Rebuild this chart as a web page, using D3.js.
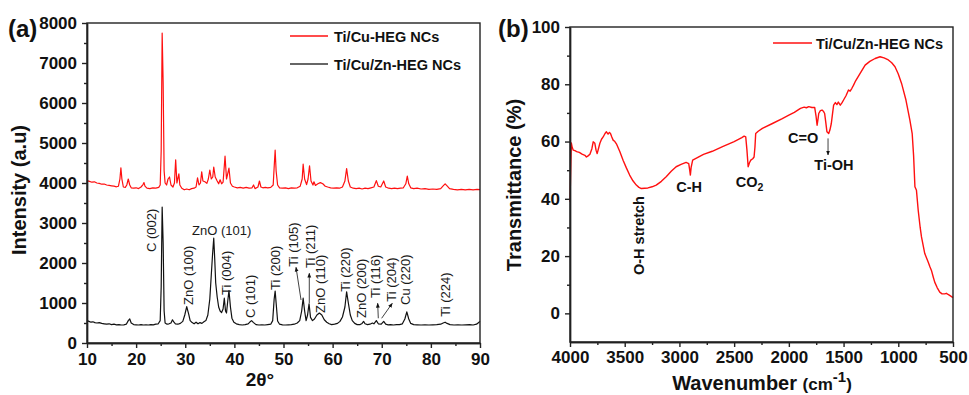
<!DOCTYPE html>
<html>
<head>
<meta charset="utf-8">
<script src="https://cdn.jsdelivr.net/npm/d3@7"></script>
<style>
  body { margin: 0; background: #fff; }
  svg text { font-family: "Liberation Sans", Arial, sans-serif; }
  .axis path, .axis line { stroke: #222; stroke-width: 1.4px; }
  .axis text { font-size: 17px; font-weight: bold; fill: #111; }
</style>
</head>
<body>
<svg id="chart" width="969" height="395"></svg>
<script>
// ---- XRD (panel a) ----
const xrdTicks = [10, 20, 30, 40, 50, 60, 70, 80, 90];
const xrdMinor = [15, 25, 35, 45, 55, 65, 75, 85];
const intTicks = [0, 1000, 2000, 3000, 4000, 5000, 6000, 7000, 8000];
const intMinor = [500, 1500, 2500, 3500, 4500, 5500, 6500, 7500];

// Ti/Cu-HEG NCs (red), [2theta, intensity]
const tiCuHeg = [[10,4060],[10.5,4040],[11,4020],[11.5,4030],[12,4000],[12.5,3990],[13,3970],[13.5,3975],[14,3950],[14.5,3940],[15,3930],[15.5,3920],[16,3905],[16.4,3920],[16.7,4100],[16.9,4380],[17.1,4100],[17.4,3900],[17.8,3890],[18.1,3950],[18.4,4100],[18.7,3950],[19,3880],[19.5,3870],[20,3880],[20.5,3860],[21,3900],[21.4,3960],[21.6,4010],[21.8,3920],[22.2,3870],[22.8,3860],[23.4,3880],[24,3870],[24.6,3890],[24.9,3950],[25.1,4800],[25.3,7750],[25.5,6500],[25.7,4300],[25.9,4000],[26.2,3950],[26.5,4100],[26.8,4150],[27.1,3950],[27.5,3900],[27.8,4000],[28.05,4580],[28.3,4000],[28.7,4230],[28.9,3950],[29.3,3870],[29.8,3830],[30.3,3850],[30.8,3830],[31.3,3860],[31.8,3870],[32.2,3900],[32.5,4130],[32.8,3950],[33.1,4000],[33.35,4280],[33.6,4050],[34,4030],[34.4,3990],[34.7,4100],[35,4320],[35.3,4100],[35.6,4150],[35.8,4400],[36.1,4150],[36.5,4050],[36.8,3980],[37.1,4080],[37.4,3980],[37.7,4020],[38.1,4670],[38.4,4100],[38.9,4370],[39.2,4000],[39.6,3920],[40,3900],[40.6,3880],[41.2,3890],[41.8,3870],[42.4,3890],[43,3870],[43.6,3880],[43.9,3950],[44.2,3860],[44.8,3900],[45.1,4050],[45.4,3900],[45.8,3880],[46.3,3890],[46.8,3880],[47.4,3890],[47.9,3950],[48.1,4400],[48.3,4820],[48.5,4300],[48.8,3950],[49.2,3880],[49.8,3870],[50.4,3880],[51,3860],[51.6,3880],[52.2,3870],[52.8,3880],[53.4,3920],[53.8,4100],[54,4470],[54.3,4100],[54.7,3960],[55,4100],[55.3,4430],[55.6,4050],[56,3950],[56.2,4030],[56.5,3940],[57,3980],[57.5,4010],[58,3980],[58.5,3920],[59,3900],[59.6,3880],[60.2,3870],[60.8,3880],[61.4,3870],[62,3900],[62.5,4050],[62.85,4360],[63.2,4050],[63.6,3900],[64.2,3870],[64.8,3860],[65.4,3870],[66,3850],[66.6,3870],[67.2,3860],[67.8,3880],[68.4,3900],[68.9,4060],[69.3,3920],[69.8,3900],[70.4,4050],[70.8,3900],[71.4,3870],[72,3860],[72.6,3870],[73.2,3860],[73.8,3870],[74.4,3880],[74.9,3980],[75.2,4170],[75.5,3980],[75.9,3880],[76.5,3860],[77.2,3870],[78,3850],[78.8,3860],[79.6,3840],[80.4,3850],[81.2,3840],[82,3860],[82.5,3930],[82.9,3980],[83.3,3930],[83.8,3860],[84.6,3840],[85.4,3830],[86.2,3840],[87,3830],[87.8,3840],[88.6,3830],[89.4,3840],[90,3835]];

// Ti/Cu/Zn-HEG NCs (black)
const tiCuZnHeg = [[10,560],[10.4,540],[10.8,520],[11.2,530],[11.6,510],[12,500],[12.5,510],[13,490],[13.5,480],[14,470],[14.5,480],[15,460],[15.5,470],[16,455],[16.5,460],[17,450],[17.5,455],[18,470],[18.4,560],[18.7,600],[19,500],[19.5,460],[20,455],[20.5,450],[21,460],[21.5,450],[22,455],[22.5,450],[23,460],[23.5,455],[24,470],[24.5,480],[24.9,560],[25.1,1400],[25.3,3400],[25.5,2500],[25.7,800],[25.9,500],[26.3,470],[26.7,480],[27.1,500],[27.4,580],[27.7,520],[28,480],[28.5,470],[29,490],[29.5,540],[29.9,700],[30.3,910],[30.7,720],[31,560],[31.4,510],[31.8,480],[32.2,520],[32.6,480],[33,510],[33.4,490],[33.8,530],[34.2,560],[34.6,700],[35,1100],[35.3,1700],[35.55,2200],[35.8,2620],[36,2100],[36.2,1500],[36.5,1150],[36.8,900],[37.1,800],[37.4,760],[37.7,850],[37.95,1120],[38.2,800],[38.4,750],[38.65,1050],[38.9,1310],[39.2,900],[39.5,620],[39.9,520],[40.4,480],[41,460],[41.6,450],[42.2,460],[42.8,480],[43.2,530],[43.5,560],[43.9,510],[44.4,460],[45,450],[45.6,455],[46.2,450],[46.8,460],[47.4,470],[47.8,560],[48.1,1100],[48.3,1300],[48.5,1000],[48.8,550],[49.2,470],[49.8,455],[50.4,450],[51,455],[51.6,460],[52.2,470],[52.8,500],[53.3,560],[53.7,800],[54,1120],[54.3,800],[54.6,560],[54.9,700],[55.2,980],[55.5,640],[55.9,560],[56.3,600],[56.8,700],[57.3,750],[57.8,700],[58.3,580],[58.8,520],[59.3,480],[59.8,460],[60.4,470],[61,490],[61.5,540],[62,650],[62.5,900],[62.85,1280],[63.2,1000],[63.6,700],[64,560],[64.5,490],[65,460],[65.6,460],[66,490],[66.3,540],[66.6,480],[67.1,460],[67.6,470],[68.1,500],[68.4,480],[68.9,560],[69.3,480],[69.9,470],[70.4,540],[70.8,470],[71.3,455],[71.8,460],[72.4,450],[73,460],[73.6,460],[74.2,480],[74.7,600],[75.1,780],[75.5,600],[75.9,490],[76.5,460],[77.2,455],[78,450],[78.8,455],[79.6,450],[80.4,455],[81.2,460],[82,470],[82.5,500],[82.9,520],[83.3,490],[83.9,460],[84.7,450],[85.5,455],[86.3,450],[87.1,455],[87.9,460],[88.6,450],[89.3,470],[89.8,520],[90,540]];

// peak labels: [text, 2theta, intensity at label start, rotated]
const peakLabels = [
  ["C (002)", 23.17, 2275, true],
  ["ZnO (100)", 30.62, 950, true],
  ["ZnO (101)", 37.42, 2700, false],
  ["Ti (004)", 38.44, 1200, true],
  ["C (101)", 43.18, 625, true],
  ["Ti (200)", 48.27, 1325, true],
  ["Ti (105)", 52.0, 1908, true],
  ["Ti (211)", 55.4, 1875, true],
  ["ZnO (110)", 57.57, 750, true],
  ["Ti (220)", 62.52, 1283, true],
  ["ZnO (200)", 65.92, 625, true],
  ["Ti (116)", 68.63, 1125, true],
  ["Ti (204)", 72.03, 1033, true],
  ["Cu (220)", 74.73, 950, true],
  ["Ti (224)", 83.0, 658, true]
];
// arrows [from 2theta, from I, to 2theta, to I]
const peakArrows = [[53.57, 1075, 52.55, 1893], [55.25, 993, 55.25, 1743], [69.3, 618, 69.17, 993], [69.98, 618, 72.14, 993]];

// ---- FTIR (panel b) ----
const waveTicks = [4000, 3500, 3000, 2500, 2000, 1500, 1000, 500];
const waveMinor = [3750, 3250, 2750, 2250, 1750, 1250, 750];
const transTicks = [0, 20, 40, 60, 80, 100];
const transMinor = [10, 30, 50, 70, 90];

// [wavenumber, transmittance]
const ftir = [[4000,39],[3995,48],[3988,59.5],[3980,58],[3970,57],[3955,56.8],[3939,56.5],[3915,56.2],[3890,55.6],[3864,55.2],[3850,54.6],[3835,55],[3818,55.6],[3800,57.5],[3788,59.9],[3773,59.4],[3762,57],[3752,55.8],[3740,57.5],[3727,59.4],[3712,60.8],[3697,61.6],[3680,62.8],[3667,63.4],[3652,62.6],[3640,63.2],[3630,62.8],[3618,61.6],[3606,60.5],[3590,60],[3576,59.2],[3545,56.5],[3515,53.5],[3485,50.8],[3455,48.3],[3425,46.3],[3394,44.8],[3370,44],[3348,43.6],[3318,43.7],[3288,43.8],[3250,44.2],[3212,44.8],[3165,46.1],[3121,47.7],[3075,49.6],[3030,51.2],[2985,52],[2939,52.7],[2915,52.3],[2906,50],[2900,48.3],[2893,51],[2879,53.5],[2849,54.1],[2780,55.5],[2700,56.6],[2606,58.2],[2500,60],[2430,61.4],[2409,61.9],[2394,61.6],[2383,57],[2372,51.2],[2360,52.6],[2348,53.5],[2330,54],[2318,54.6],[2310,58],[2303,62.8],[2280,63.6],[2242,64.6],[2150,66.3],[2060,68],[2000,69.2],[1950,70.2],[1894,71.6],[1860,72],[1840,71.8],[1818,72.2],[1790,71.9],[1764,71.9],[1752,69],[1742,65.7],[1733,68],[1727,69.8],[1712,70.8],[1697,71],[1685,70.6],[1673,69.8],[1662,66.5],[1652,63.4],[1636,62.8],[1625,64],[1612,66.3],[1600,70],[1591,72.7],[1575,73.6],[1561,72.9],[1548,73.8],[1530,72.7],[1515,73.5],[1500,74.5],[1478,76],[1455,78],[1440,77.6],[1424,78.6],[1410,79.6],[1394,80.9],[1350,83.7],[1303,86.7],[1260,88],[1212,89],[1167,89.6],[1130,89.2],[1091,88.5],[1060,87.5],[1030,86.1],[1000,83.6],[970,80.3],[930,74.5],[894,67.5],[873,62.8],[860,55],[848,44.2],[834,43],[818,36],[800,30],[788,26.7],[758,20.9],[727,17.9],[710,16.2],[697,15],[680,12.6],[667,10.9],[645,9],[621,7.4],[600,6.8],[576,6.8],[560,7],[545,6.6],[520,6],[500,5.5]];

// FTIR annotations [text, wavenumber, transmittance]
const ftirLabels = [["C-H", 2912, 42.4], ["C=O", 1869, 59.5], ["Ti-OH", 1588, 50.1]];

const svg = d3.select("#chart");
svg.append("rect").attr("width", 969).attr("height", 395).attr("fill", "#fff");

const defs = svg.append("defs");
defs.append("marker").attr("id", "head").attr("viewBox", "0 0 10 10")
  .attr("refX", 9).attr("refY", 5).attr("markerWidth", 6).attr("markerHeight", 6)
  .attr("orient", "auto-start-reverse")
  .append("path").attr("d", "M0,1 L10,5 L0,9 z").attr("fill", "#111");

function drawAxes(x, y, xMajor, xMinor, yMajor, yMinor, xPad) {
  const [x0, x1] = x.range(), [y0, y1] = y.range();
  const fmt = d3.format("d");
  svg.append("g").attr("class", "axis").attr("transform", `translate(0,${y0})`)
    .call(d3.axisBottom(x).tickValues(xMinor).tickSize(3).tickSizeOuter(0).tickFormat(""));
  svg.append("g").attr("class", "axis").attr("transform", `translate(0,${y0})`)
    .call(d3.axisBottom(x).tickValues(xMajor).tickSize(5).tickSizeOuter(0).tickPadding(xPad).tickFormat(fmt));
  svg.append("g").attr("class", "axis").attr("transform", `translate(${x0},0)`)
    .call(d3.axisLeft(y).tickValues(yMinor).tickSize(3).tickSizeOuter(0).tickFormat(""));
  svg.append("g").attr("class", "axis").attr("transform", `translate(${x0},0)`)
    .call(d3.axisLeft(y).tickValues(yMajor).tickSize(5).tickSizeOuter(0).tickPadding(5).tickFormat(fmt));
  svg.append("rect")
    .attr("x", x0).attr("y", y1).attr("width", x1 - x0).attr("height", y0 - y1)
    .attr("fill", "none").attr("stroke", "#222").attr("stroke-width", 1.4);
}

// ===== panel (a) =====
const xA = d3.scaleLinear().domain([10, 90]).range([87, 480]);
const yA = d3.scaleLinear().domain([0, 8000]).range([343, 23]);
const lineA = d3.line().x(d => xA(d[0])).y(d => yA(d[1]));

svg.append("path").datum(tiCuZnHeg).attr("d", lineA)
  .attr("fill", "none").attr("stroke", "#111").attr("stroke-width", 1.2).attr("stroke-linejoin", "round");
svg.append("path").datum(tiCuHeg).attr("d", lineA)
  .attr("fill", "none").attr("stroke", "#ff1010").attr("stroke-width", 1.2).attr("stroke-linejoin", "round");

drawAxes(xA, yA, xrdTicks, xrdMinor, intTicks, intMinor, 5);

svg.selectAll(".peak").data(peakLabels).enter().append("text")
  .attr("class", "peak")
  .attr("transform", d => d[3]
    ? `translate(${xA(d[1])},${yA(d[2])}) rotate(-90)`
    : `translate(${xA(d[1])},${yA(d[2])})`)
  .attr("dy", d => d[3] ? "0.35em" : 0)
  .attr("text-anchor", d => d[3] ? "start" : "middle")
  .style("font-size", "13px").style("fill", "#1a1a1a")
  .text(d => d[0]);

svg.selectAll(".parrow").data(peakArrows).enter().append("line")
  .attr("class", "parrow")
  .attr("x1", d => xA(d[0])).attr("y1", d => yA(d[1]))
  .attr("x2", d => xA(d[2])).attr("y2", d => yA(d[3]))
  .attr("stroke", "#111").attr("stroke-width", 0.8).attr("marker-end", "url(#head)");

// legend a
const legA = [["Ti/Cu-HEG NCs", "#ff1010", 36], ["Ti/Cu/Zn-HEG NCs", "#333", 64]];
legA.forEach(l => {
  svg.append("line").attr("x1", 290).attr("x2", 328).attr("y1", l[2]).attr("y2", l[2])
    .attr("stroke", l[1]).attr("stroke-width", 1.5);
  svg.append("text").attr("x", 334).attr("y", l[2] + 5.5)
    .style("font-size", "14.5px").style("font-weight", "bold").style("fill", "#111").text(l[0]);
});

svg.append("text").attr("x", 8).attr("y", 37)
  .style("font-size", "24px").style("font-weight", "bold").style("fill", "#111").text("(a)");
svg.append("text").attr("transform", "translate(26,190) rotate(-90)").attr("text-anchor", "middle")
  .style("font-size", "20px").style("font-weight", "bold").style("fill", "#111").text("Intensity (a.u)");
svg.append("text").attr("x", 260).attr("y", 386).attr("text-anchor", "middle")
  .style("font-size", "19px").style("font-weight", "bold").style("fill", "#111").text("2θ°");

// ===== panel (b) =====
const xB = d3.scaleLinear().domain([4000, 500]).range([570, 953]);
const yB = d3.scaleLinear().domain([-10, 100]).range([342, 27]);
const lineB = d3.line().x(d => xB(d[0])).y(d => yB(d[1]));

svg.append("path").datum(ftir).attr("d", lineB)
  .attr("fill", "none").attr("stroke", "#ff1010").attr("stroke-width", 1.4).attr("stroke-linejoin", "round");

drawAxes(xB, yB, waveTicks, waveMinor, transTicks, transMinor, 4);

svg.selectAll(".flab").data(ftirLabels).enter().append("text")
  .attr("class", "flab")
  .attr("x", d => xB(d[1])).attr("y", d => yB(d[2])).attr("text-anchor", "middle")
  .style("font-size", "14.5px").style("font-weight", "bold").style("fill", "#111")
  .text(d => d[0]);

const co2 = svg.append("text").attr("x", xB(2359)).attr("y", yB(44.1)).attr("text-anchor", "middle")
  .style("font-size", "14.5px").style("font-weight", "bold").style("fill", "#111");
co2.append("tspan").text("CO");
co2.append("tspan").attr("dy", 4).style("font-size", "10.5px").text("2");

svg.append("text").attr("transform", `translate(${xB(3374)},${yB(13.4)}) rotate(-90)`)
  .attr("dy", "0.35em")
  .style("font-size", "14.5px").style("font-weight", "bold").style("fill", "#111").text("O-H stretch");

svg.append("line").attr("x1", xB(1642)).attr("x2", xB(1642)).attr("y1", yB(61.1)).attr("y2", yB(55.3))
  .attr("stroke", "#111").attr("stroke-width", 0.8).attr("marker-end", "url(#head)");

svg.append("line").attr("x1", 773).attr("x2", 812).attr("y1", 43).attr("y2", 43)
  .attr("stroke", "#ff1010").attr("stroke-width", 1.5);
svg.append("text").attr("x", 816).attr("y", 48.5)
  .style("font-size", "14.5px").style("font-weight", "bold").style("fill", "#111").text("Ti/Cu/Zn-HEG NCs");

svg.append("text").attr("x", 498).attr("y", 37)
  .style("font-size", "24px").style("font-weight", "bold").style("fill", "#111").text("(b)");
svg.append("text").attr("transform", "translate(521,185) rotate(-90)").attr("text-anchor", "middle")
  .style("font-size", "20px").style("font-weight", "bold").style("fill", "#111").text("Transmittance (%)");

const wt = svg.append("text").attr("x", 762).attr("y", 390).attr("text-anchor", "middle")
  .style("font-size", "20px").style("font-weight", "bold").style("fill", "#111");
wt.append("tspan").text("Wavenumber ");
wt.append("tspan").style("font-size", "17px").text("(cm");
wt.append("tspan").attr("dy", -8).style("font-size", "15px").text("-1");
wt.append("tspan").attr("dy", 8).style("font-size", "17px").text(")");
</script>
</body>
</html>
